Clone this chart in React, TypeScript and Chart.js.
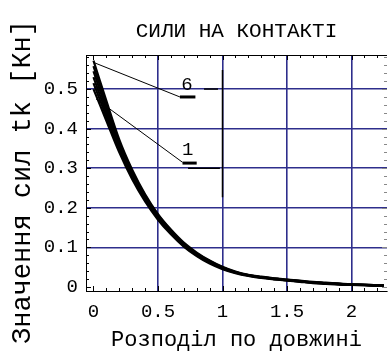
import { useEffect, useRef } from "react";
import { Chart, registerables } from "chart.js";

Chart.register(...registerables);

// Positions along the length
const positions = [0, 0.1, 0.2, 0.3, 0.4, 0.5, 0.6, 0.7, 0.8, 0.9, 1.0, 1.1, 1.2, 1.3, 1.4, 1.5, 1.6, 1.7, 1.8, 1.9, 2.0, 2.1, 2.2, 2.25];

// Contact forces tk [Кн] for curves 1..6
const force1 = [0.500, 0.420, 0.340, 0.272, 0.216, 0.170, 0.133, 0.102, 0.078, 0.059, 0.045, 0.035, 0.028, 0.023, 0.019, 0.016, 0.013, 0.010, 0.008, 0.006, 0.005, 0.004, 0.003, 0.003];
const force2 = [0.515, 0.430, 0.347, 0.277, 0.220, 0.173, 0.136, 0.104, 0.080, 0.061, 0.047, 0.036, 0.029, 0.024, 0.020, 0.017, 0.014, 0.011, 0.009, 0.007, 0.006, 0.005, 0.004, 0.004];
const force3 = [0.530, 0.440, 0.354, 0.283, 0.224, 0.176, 0.138, 0.106, 0.082, 0.063, 0.048, 0.037, 0.029, 0.024, 0.020, 0.017, 0.014, 0.011, 0.009, 0.007, 0.006, 0.005, 0.004, 0.004];
const force4 = [0.545, 0.450, 0.360, 0.288, 0.228, 0.179, 0.141, 0.108, 0.084, 0.064, 0.049, 0.038, 0.030, 0.025, 0.021, 0.018, 0.015, 0.012, 0.010, 0.008, 0.006, 0.005, 0.004, 0.004];
const force5 = [0.558, 0.460, 0.366, 0.292, 0.231, 0.182, 0.143, 0.110, 0.085, 0.066, 0.050, 0.038, 0.030, 0.025, 0.021, 0.018, 0.015, 0.012, 0.010, 0.008, 0.007, 0.006, 0.005, 0.004];
const force6 = [0.572, 0.470, 0.372, 0.296, 0.234, 0.184, 0.145, 0.112, 0.087, 0.067, 0.051, 0.039, 0.031, 0.026, 0.022, 0.019, 0.016, 0.013, 0.011, 0.009, 0.007, 0.006, 0.005, 0.005];

const xTickValues = [0, 0.5, 1, 1.5, 2];
const yTickValues = [0, 0.1, 0.2, 0.3, 0.4, 0.5];

// Curve tags with their leader lines
const tagText = ["6", "1"];
const tagX = [0.725, 0.73];
const tagY = [0.51, 0.345];
const leaderX6 = [0.01, 0.67];
const leaderY6 = [0.566, 0.48];
const underX6 = [0.67, 0.79];
const underY6 = [0.48, 0.48];
const leaderX1 = [0.02, 0.69];
const leaderY1 = [0.475, 0.315];
const underX1 = [0.69, 0.80];
const underY1 = [0.313, 0.313];

// Black guide strokes over the grid
const guideAX = [0.857, 0.965];
const guideAY = [0.5, 0.5];
const guideBX = [0.733, 0.98];
const guideBY = [0.3, 0.3];
const guideCX = [1, 1];
const guideCY = [0.548, 0.227];

const X_MIN = -0.058;
const X_MAX = 2.275;
const Y_MIN = -0.0101;
const Y_MAX = 0.586;

const FONT = '"Liberation Mono", "Courier New", monospace';
const GRID = "#2e2e8c";

const pts = (xs: number[], ys: number[]) => xs.map((x, i) => ({ x, y: ys[i] }));

const frameTicks = {
  id: "frameTicks",
  beforeDatasetsDraw(chart: any) {
    const { ctx, chartArea: a, scales } = chart;
    const xs = scales.x;
    const ys = scales.y;
    ctx.save();
    ctx.strokeStyle = "#000";
    ctx.lineWidth = 1;
    ctx.beginPath();
    ctx.moveTo(a.left, a.top + 0.5);
    ctx.lineTo(a.right, a.top + 0.5);
    ctx.stroke();
    // x ticks (bottom and top)
    for (let k = 0; k <= 22; k++) {
      const v = k / 10;
      const major = k % 5 === 0;
      const len = major ? 5 : 3;
      const px = Math.round(xs.getPixelForValue(v)) + 0.5;
      ctx.beginPath();
      ctx.moveTo(px, a.bottom);
      ctx.lineTo(px, a.bottom - len);
      ctx.moveTo(px, a.top);
      ctx.lineTo(px, a.top + len);
      ctx.stroke();
    }
    // y ticks (left and right)
    for (let k = 0; k <= 29; k++) {
      const v = k * 0.02;
      const major = k % 5 === 0;
      const len = major ? 5 : 3;
      const py = Math.round(ys.getPixelForValue(v)) + 0.5;
      ctx.beginPath();
      ctx.moveTo(a.left, py);
      ctx.lineTo(a.left + len, py);
      ctx.stroke();
      ctx.strokeStyle = "#888";
      ctx.beginPath();
      ctx.moveTo(a.right, py);
      ctx.lineTo(a.right - len, py);
      ctx.stroke();
      ctx.strokeStyle = "#000";
    }
    ctx.restore();
  },
};

const textLayer = {
  id: "textLayer",
  afterDraw(chart: any) {
    const { ctx, scales } = chart;
    ctx.save();
    ctx.fillStyle = "#000";
    ctx.font = `19px ${FONT}`;
    ctx.textAlign = "center";
    ctx.textBaseline = "middle";
    tagText.forEach((t, i) => {
      ctx.fillText(t, scales.x.getPixelForValue(tagX[i]), scales.y.getPixelForValue(tagY[i]));
    });
    ctx.translate(23, 182);
    ctx.rotate(-Math.PI / 2);
    ctx.font = `27px ${FONT}`;
    ctx.fillText("Значення сил tk [Кн]", 0, 0);
    ctx.restore();
  },
};

export default function App() {
  const ref = useRef<HTMLCanvasElement | null>(null);

  useEffect(() => {
    if (!ref.current) return;
    const curve = (d: number[]) => ({
      data: pts(positions, d),
      borderColor: "#000",
      borderWidth: 2.2,
      pointRadius: 0,
      showLine: true,
      tension: 0.35,
    });
    const stroke = (xs: number[], ys: number[], w: number) => ({
      data: pts(xs, ys),
      borderColor: "#000",
      borderWidth: w,
      pointRadius: 0,
      showLine: true,
    });
    const chart = new Chart(ref.current, {
      type: "scatter",
      data: {
        datasets: [
          curve(force1),
          curve(force2),
          curve(force3),
          curve(force4),
          curve(force5),
          curve(force6),
          stroke(leaderX6, leaderY6, 1),
          stroke(underX6, underY6, 3),
          stroke(leaderX1, leaderY1, 1),
          stroke(underX1, underY1, 3),
          stroke(guideAX, guideAY, 1.5),
          stroke(guideBX, guideBY, 1.5),
          stroke(guideCX, guideCY, 1.5),
        ] as any,
      },
      options: {
        animation: false,
        responsive: false,
        devicePixelRatio: 1,
        layout: { padding: { top: 0, right: 1, bottom: 0, left: 0 } },
        plugins: {
          legend: { display: false },
          tooltip: { enabled: false },
          title: {
            display: true,
            text: "СИЛИ НА КОНТАКТІ",
            color: "#000",
            fullSize: false,
            font: { family: FONT, size: 21, weight: "normal" },
            padding: { top: 19, bottom: 10.8 },
          },
        },
        scales: {
          x: {
            type: "linear",
            min: X_MIN,
            max: X_MAX,
            afterBuildTicks: (s: any) => {
              s.ticks = xTickValues.map((v) => ({ value: v }));
            },
            afterFit: (s: any) => {
              s.height = 67;
            },
            ticks: {
              color: "#000",
              font: { family: FONT, size: 19 },
              padding: 10,
              maxRotation: 0,
              autoSkip: false,
              callback: (v: any) => String(v),
            },
            grid: {
              color: (c: any) => (c.tick && c.tick.value === 0 ? "rgba(0,0,0,0)" : GRID),
              lineWidth: 1.6,
              drawTicks: false,
            },
            border: { display: true, color: "#000", width: 1 },
            title: {
              display: true,
              text: "Розподіл по довжині",
              color: "#000",
              font: { family: FONT, size: 22 },
              padding: { top: 0, bottom: 5 },
            },
          },
          y: {
            type: "linear",
            min: Y_MIN,
            max: Y_MAX,
            afterBuildTicks: (s: any) => {
              s.ticks = yTickValues.map((v) => ({ value: v }));
            },
            afterFit: (s: any) => {
              s.width = 86;
            },
            ticks: {
              color: "#000",
              font: { family: FONT, size: 19 },
              padding: 8,
              autoSkip: false,
              callback: (v: any) => String(v),
            },
            grid: {
              color: (c: any) => (c.tick && c.tick.value === 0 ? "rgba(0,0,0,0)" : GRID),
              lineWidth: 1.6,
              drawTicks: false,
            },
            border: { display: true, color: "#000", width: 1 },
          },
        },
      } as any,
      plugins: [frameTicks, textLayer],
    });
    return () => chart.destroy();
  }, []);

  return (
    <div style={{ position: "fixed", left: 0, top: 0, width: 388, height: 358, background: "#fff" }}>
      <canvas ref={ref} width={388} height={358} style={{ width: 388, height: 358, display: "block" }} />
    </div>
  );
}
